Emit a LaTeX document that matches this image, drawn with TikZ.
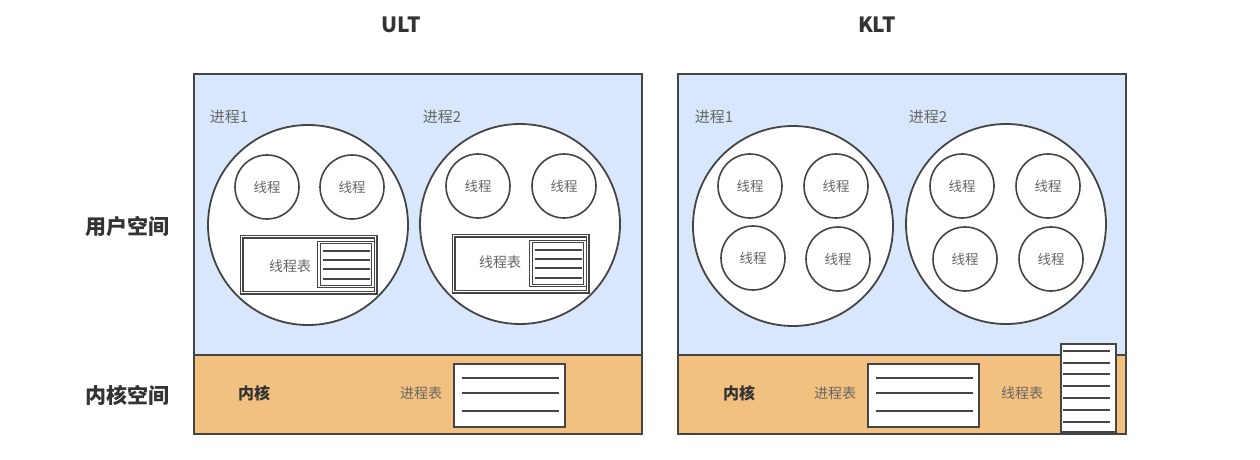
\documentclass[tikz,border=0pt]{standalone}
\usepackage{fontspec}
\setmainfont{Noto Sans CJK SC}
\usetikzlibrary{calc}
\definecolor{ublue}{HTML}{D8E7FB}
\definecolor{korange}{HTML}{F2C07F}
\definecolor{edge}{HTML}{454545}
\definecolor{lbl}{HTML}{666666}
\definecolor{dark}{HTML}{333333}
\tikzset{
  region/.style={draw=edge, line width=1.9pt, inner sep=0pt, anchor=north west},
  proc/.style={circle, draw=edge, fill=white, line width=1.8pt, minimum size=200pt, inner sep=0pt},
  thread/.style={circle, draw=edge, fill=white, line width=1.6pt, minimum size=64pt, inner sep=0pt,
    font=\fontsize{13.5}{13.5}\selectfont, text=lbl},
  tblouter/.style={draw=edge, fill=white, double=white, double distance=1.8pt, line width=1.1pt,
    inner sep=0pt, anchor=north west, minimum width=134pt, minimum height=56pt},
  tblinner/.style={draw=edge, fill=white, double=white, double distance=1.5pt, line width=1.1pt,
    inner sep=0pt, anchor=north east, minimum width=54pt, minimum height=44pt},
  listbox/.style={draw=edge, fill=white, line width=1.7pt, inner sep=0pt, anchor=north west},
  listline/.style={draw=edge, line width=1.5pt},
  plabel/.style={font=\fontsize{15}{15}\selectfont, text=lbl, inner sep=0pt},
  slabel/.style={font=\fontsize{14}{14}\selectfont, text=lbl, inner sep=0pt},
  klabel/.style={font=\bfseries\fontsize{16}{16}\selectfont, text=dark, inner sep=0pt},
  side/.style={font=\bfseries\fontsize{21}{21}\selectfont, text=dark, inner sep=0pt},
  title/.style={font=\bfseries\fontsize{21}{21}\selectfont, text=dark, inner sep=0pt},
}
\begin{document}
\begin{tikzpicture}[x=1pt,y=-1pt]
\useasboundingbox (0,0) rectangle (1260,460);
% titles and side labels
\node[title] (tULT) at (401,25) {ULT};
\node[title] (tKLT) at (877,25) {KLT};
\node[side] (sUser) at (127,226) {用户空间};
\node[side] (sKern) at (127,395) {内核空间};

% ===== ULT frame =====
\node[region, fill=ublue, minimum width=448pt, minimum height=281pt] (uU) at (193,73) {};
\node[region, fill=korange, minimum width=448pt, minimum height=79pt] (uK) at (193,354) {};
\node[plabel] (uP1l) at (229,117) {进程1};
\node[plabel] (uP2l) at (442,117) {进程2};
\node[proc] (uP1) at (308,225) {};
\node[proc] (uP2) at (520,224) {};
\node[thread] (uT11) at (267,187) {线程};
\node[thread] (uT12) at (352,187) {线程};
\node[thread] (uT21) at (478,186) {线程};
\node[thread] (uT22) at (564,186) {线程};
% thread tables inside processes
\node[tblouter] (uTT1) at (241,236) {};
\node[tblinner] (uTL1) at ($(uTT1.north east)+(-2.5,6)$) {};
\node[slabel] (uTT1l) at ($(uTT1.west)+(49,2)$) {线程表};
\foreach \yy in {9,18,27,37}
  \draw[listline, line width=1.2pt] ($(uTL1.north west)+(4,\yy)$) -- ($(uTL1.north east)+(-4,\yy)$);
\node[tblouter] (uTT2) at (453,235) {};
\node[tblinner] (uTL2) at ($(uTT2.north east)+(-2.5,6)$) {};
\node[slabel] (uTT2l) at ($(uTT2.west)+(47,-1)$) {线程表};
\foreach \yy in {9,18,27,37}
  \draw[listline, line width=1.2pt] ($(uTL2.north west)+(4,\yy)$) -- ($(uTL2.north east)+(-4,\yy)$);
% kernel
\node[klabel] (uKl) at (254,393) {内核};
\node[slabel] (uPTl) at (421,393) {进程表};
\node[listbox, minimum width=111pt, minimum height=63pt] (uPT) at (453,363) {};
\foreach \yy in {15,30,48}
  \draw[listline] ($(uPT.north west)+(9,\yy)$) -- ($(uPT.north east)+(-7,\yy)$);

% ===== KLT frame =====
\node[region, fill=ublue, minimum width=448pt, minimum height=281pt] (kU) at (677,73) {};
\node[region, fill=korange, minimum width=448pt, minimum height=79pt] (kK) at (677,354) {};
\node[plabel] (kP1l) at (714,117) {进程1};
\node[plabel] (kP2l) at (928,117) {进程2};
\node[proc] (kP1) at (793,226) {};
\node[proc] (kP2) at (1006,224) {};
\node[thread] (kT11) at (750,186) {线程};
\node[thread] (kT12) at (836,186) {线程};
\node[thread] (kT13) at (753,258) {线程};
\node[thread] (kT14) at (838,259) {线程};
\node[thread] (kT21) at (962,186) {线程};
\node[thread] (kT22) at (1048,186) {线程};
\node[thread] (kT23) at (965,259) {线程};
\node[thread] (kT24) at (1051,259) {线程};
% kernel
\node[klabel] (kKl) at (739,393) {内核};
\node[slabel] (kPTl) at (835,393) {进程表};
\node[listbox, minimum width=111pt, minimum height=63pt] (kPT) at (867,363) {};
\foreach \yy in {15,30,48}
  \draw[listline] ($(kPT.north west)+(9,\yy)$) -- ($(kPT.north east)+(-7,\yy)$);
\node[slabel] (kTTl) at (1022,393) {线程表};
\node[listbox, minimum width=55pt, minimum height=88pt] (kTT) at (1060,343) {};
\foreach \yy in {8,20,31,43,55,67,79}
  \draw[listline] ($(kTT.north west)+(3,\yy)$) -- ($(kTT.north east)+(-7,\yy)$);
\end{tikzpicture}
\end{document}
